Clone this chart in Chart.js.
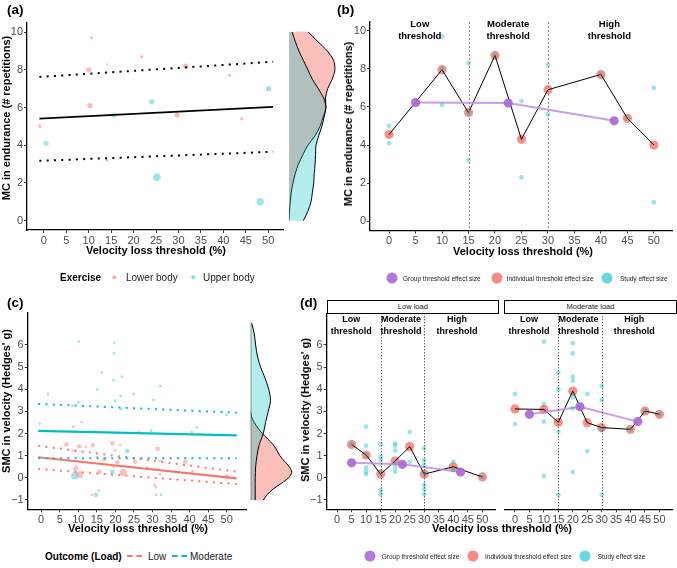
<!DOCTYPE html>
<html>
<head>
<meta charset="utf-8">
<script src="https://cdn.jsdelivr.net/npm/chart.js@4.4.0/dist/chart.umd.min.js"></script>
<style>
body { margin: 0; background: #fff; font-family: "Liberation Sans", Arial, Helvetica, sans-serif; }
#wrap { position: relative; width: 677px; height: 568px; overflow: hidden; background: #fff; }
canvas { position: absolute; }
.t { position: absolute; white-space: nowrap; color: #000; }
.lab { font-weight: bold; font-size: 13.5px; transform: translateY(-50%); }
.ax { font-weight: bold; font-size: 11px; transform: translate(-50%, -50%); }
.ay { font-weight: bold; font-size: 11px; transform: translate(-50%, -50%) rotate(-90deg); }
.lg { font-size: 10px; transform: translateY(-50%); color: #1a1a1a; }
.lgb { font-size: 10px; font-weight: bold; transform: translateY(-50%); }
.lgs { font-size: 6.5px; transform: translateY(-50%); color: #222; }
.dot { position: absolute; border-radius: 50%; transform: translate(-50%, -50%); }
.key { position: absolute; width: 15px; height: 0; transform: translateY(-50%); }
.strip { position: absolute; border: 1px solid #000; box-sizing: border-box; font-size: 7.5px; text-align: center; line-height: 11.5px; color: #1a1a1a; background: #fff; }
</style>
</head>
<body>
<div id="wrap">
  <canvas id="cA" width="287" height="262" style="left:0;top:0"></canvas>
  <canvas id="cAd" width="52" height="262" style="left:287px;top:0"></canvas>
  <canvas id="cB" width="347" height="262" style="left:330px;top:0"></canvas>
  <canvas id="cC" width="250" height="250" style="left:0;top:290px"></canvas>
  <canvas id="cCd" width="50" height="250" style="left:249px;top:290px"></canvas>
  <canvas id="cD1" width="204" height="250" style="left:296px;top:290px"></canvas>
  <canvas id="cD2" width="177" height="250" style="left:500px;top:290px"></canvas>

  <div class="t lab" style="left:7px;top:9px">(a)</div>
  <div class="t lab" style="left:337px;top:9px">(b)</div>
  <div class="t lab" style="left:7px;top:301.5px">(c)</div>
  <div class="t lab" style="left:300px;top:301.5px">(d)</div>

  <div class="t ay" style="left:5.5px;top:118px">MC in endurance (# repetitions)</div>
  <div class="t ax" style="left:156px;top:250px">Velocity loss threshold (%)</div>
  <div class="t ay" style="left:347.5px;top:124px">MC in endurance (# repetitions)</div>
  <div class="t ax" style="left:523px;top:251px">Velocity loss threshold (%)</div>
  <div class="t ay" style="left:5.5px;top:401px">SMC in velocity (Hedges' g)</div>
  <div class="t ax" style="left:138px;top:528px">Velocity loss threshold (%)</div>
  <div class="t ay" style="left:304.5px;top:410px">SMC in velocity (Hedges' g)</div>
  <div class="t ax" style="left:502px;top:528px">Velocity loss threshold (%)</div>

  <div class="strip" style="left:326.7px;top:300px;width:172.3px;height:13.5px">Low load</div>
  <div class="strip" style="left:504.3px;top:300px;width:172.4px;height:13.5px">Moderate load</div>

  <!-- leyenda (a) -->
  <div class="t lgb" style="left:60px;top:277px">Exercise</div>
  <div class="dot" style="left:114px;top:277px;width:3.5px;height:3.5px;background:rgba(248,118,109,0.6)"></div>
  <div class="t lg" style="left:126px;top:277px">Lower body</div>
  <div class="dot" style="left:193px;top:277px;width:3.5px;height:3.5px;background:rgba(0,191,196,0.5)"></div>
  <div class="t lg" style="left:203px;top:277px">Upper body</div>

  <!-- leyenda (b) -->
  <div class="dot" style="left:392.3px;top:278px;width:11px;height:11px;background:rgba(172,104,214,0.9)"></div>
  <div class="t lgs" style="left:403px;top:278px">Group threshold effect size</div>
  <div class="dot" style="left:496.7px;top:278px;width:11px;height:11px;background:rgba(248,118,109,0.85)"></div>
  <div class="t lgs" style="left:506.7px;top:278px">Individual threshold effect size</div>
  <div class="dot" style="left:607.3px;top:278px;width:11px;height:11px;background:rgba(0,191,196,0.6)"></div>
  <div class="t lgs" style="left:620px;top:278px">Study effect size</div>

  <!-- leyenda (c) -->
  <div class="t lgb" style="left:45px;top:556px">Outcome (Load)</div>
  <div class="key" style="left:127px;top:556px;border-top:2px dashed #F8766D"></div>
  <div class="t lg" style="left:148px;top:556px">Low</div>
  <div class="key" style="left:172px;top:556px;border-top:2px dashed #00BFC4"></div>
  <div class="t lg" style="left:190px;top:556px">Moderate</div>

  <!-- leyenda (d) -->
  <div class="dot" style="left:370px;top:556px;width:11px;height:11px;background:rgba(172,104,214,0.9)"></div>
  <div class="t lgs" style="left:381.7px;top:556px">Group threshold effect size</div>
  <div class="dot" style="left:473.3px;top:556px;width:11px;height:11px;background:rgba(248,118,109,0.85)"></div>
  <div class="t lgs" style="left:485px;top:556px">Individual threshold effect size</div>
  <div class="dot" style="left:585px;top:556px;width:11px;height:11px;background:rgba(0,191,196,0.6)"></div>
  <div class="t lgs" style="left:597.7px;top:556px">Study effect size</div>
</div>

<script>
// Figura de umbrales de perdida de velocidad: (a) (b) resistencia, (c) (d) velocidad

// ---- (a) MC en resistencia por tipo de ejercicio ----
var aLowX = [-0.9, 10.6, 10.0, 10.25, 14.1, 14.1, 21.8, 31.6, 29.7, 41.4, 44.1];
var aLowY = [5.0, 9.7, 8.0, 6.1, 8.3, 3.2, 8.7, 8.2, 5.6, 7.7, 5.4];
var aLowW = [2, 2, 3, 3, 1, 2, 2, 3, 3, 2, 2];
var aUpX = [0.5, 15.6, 24.0, 25.2, 48.2, 50.1];
var aUpY = [4.1, 5.6, 6.3, 2.3, 1.0, 7.0];
var aUpW = [3, 3, 3, 4, 4, 3];
var aFitX = [-1, 51.1];
var aFit = [5.41, 6.03];
var aFitHi = [7.62, 8.43];
var aFitLo = [3.17, 3.65];
// densidades (a), y de 10 a 0
var aDensY = [10, 9.5, 9, 8.5, 8, 7.5, 7, 6.5, 6, 5.5, 5, 4.5, 4, 3.5, 3, 2.5, 2, 1.5, 1, 0.5, 0];
var aDensLow = [0.43, 0.64, 0.85, 0.99, 1.02, 0.96, 0.86, 0.81, 0.82, 0.76, 0.69, 0.58, 0.42, 0.31, 0.21, 0.14, 0.09, 0.05, 0.03, 0.01, 0];
var aDensUp = [0.07, 0.14, 0.22, 0.32, 0.42, 0.52, 0.65, 0.77, 0.82, 0.78, 0.73, 0.66, 0.60, 0.59, 0.58, 0.56, 0.55, 0.52, 0.49, 0.42, 0.32];

// ---- (b) umbrales en resistencia ----
var bStudyX = [0, 0, 10, 10, 10, 15, 15, 15, 20, 25, 25, 30, 30, 40, 45, 50, 50];
var bStudyY = [5.0, 4.1, 9.7, 8.0, 6.1, 8.3, 5.7, 3.2, 8.7, 6.3, 2.3, 8.2, 5.6, 7.7, 5.4, 7.0, 1.0];
var bIndX = [0, 10, 15, 20, 25, 30, 40, 45, 50];
var bIndY = [4.55, 7.95, 5.7, 8.7, 4.3, 6.9, 7.7, 5.4, 4.0];
var bGrpX = [5, 22.5, 42.5];
var bGrpY = [6.23, 6.2, 5.27];

// ---- (c) SMC en velocidad por carga ----
var cLowX = [6.8, 8.4, 8.7, 9.0, 9.2, 9.4, 10.3, 10.4, 12.1, 13.7, 13.9, 15.0, 15.5, 15.7, 17.0, 19.2, 19.6, 19.9, 20.5, 21.3, 22.1, 25.3, 26.3, 28.6, 30.6, 30.8, 31.0, 31.4, 32.0, 32.0, 38.8, 40.8, 50.0, 51.7];
var cLowY = [1.51, 1.23, 2.31, 0.35, 1.20, 0.46, 1.43, 0.14, 1.41, -0.77, 1.48, 0.95, -0.58, 0.28, 0.84, 1.56, 0.50, 1.23, 0.70, 1.48, 0.24, 0.73, 2.07, 0.47, -0.32, -0.43, -0.77, 1.31, 0.78, 0.16, 0.73, 0.30, 0.06, 0.00];
var cLowW = [2, 1, 1, 1, 1, 2, 2, 3, 1, 1, 2, 1, 1, 2, 2, 2, 1, 1, 2, 1, 3, 2, 1, 1, 1, 1, 1, 2, 1, 1, 2, 1, 2, 1];
var cModX = [-0.4, 1.8, 8.4, 9.0, 10.1, 10.1, 10.9, 14.5, 14.8, 15.1, 16.3, 19.2, 19.5, 19.6, 19.7, 19.9, 21.4, 21.5, 21.8, 23.2, 24.9, 29.6, 30.3, 32.1, 32.3, 40.6, 41.9, 49.9];
var cModY = [2.45, 3.79, 3.26, 0.10, 6.15, 3.41, 2.52, 2.10, -0.77, 4.00, 4.75, 0.27, 4.40, 5.62, 6.10, 3.49, 3.70, 3.10, 4.57, 1.21, 3.79, 2.13, 3.52, 4.15, -0.76, 2.06, 2.28, 2.84];
var cModW = [1, 1, 1, 3, 1, 1, 1, 1, 2, 1, 1, 2, 1, 1, 1, 1, 1, 1, 1, 2, 1, 1, 1, 1, 1, 1, 1, 1];
var cFitX = [-0.8, 52.7];
var cLowFit = [0.93, -0.02];
var cLowHi = [1.45, 0.28];
var cLowLo = [0.40, -0.28];
var cModFit = [2.12, 1.92];
var cModHi = [3.34, 2.94];
var cModLo = [0.88, 0.88];
var cDensModY = [7, 6.5, 6, 5.5, 5, 4.5, 4, 3.5, 3, 2.5, 2, 1.5, 1, 0.5, 0, -0.5, -1];
var cDensMod = [0.02, 0.08, 0.11, 0.15, 0.22, 0.32, 0.40, 0.44, 0.39, 0.33, 0.28, 0.19, 0.14, 0.11, 0.10, 0.10, 0.10];
var cDensLowY = [3, 2.75, 2.5, 2.25, 2, 1.75, 1.5, 1.25, 1, 0.75, 0.5, 0.25, 0, -0.25, -0.5, -0.75, -1];
var cDensLow = [0, 0.02, 0.08, 0.16, 0.26, 0.38, 0.50, 0.58, 0.65, 0.75, 0.86, 0.91, 0.84, 0.68, 0.50, 0.37, 0.28];

// ---- (d) umbrales en velocidad, carga baja y moderada ----
var dLowStudyX = [5, 10, 10, 10, 10, 10, 10, 15, 15, 15, 15, 15, 15, 20, 20, 20, 20, 20, 20, 25, 25, 30, 30, 30, 30, 30, 30, 30, 40, 40, 50];
var dLowStudyY = [1.51, 2.31, 1.45, 1.03, 0.46, 0.28, 0.16, 1.51, 0.95, 0.80, 0.23, -0.55, -0.74, 1.56, 1.45, 1.23, 0.68, 0.47, 0.28, 2.08, 0.73, 1.33, 0.80, 0.58, 0.20, -0.32, -0.52, -0.74, 0.73, 0.35, 0.04];
var dLowIndX = [5, 10, 15, 20, 25, 30, 40, 50];
var dLowIndY = [1.51, 1.03, 0.17, 0.76, 1.41, 0.17, 0.50, 0.04];
var dLowGrpX = [5, 22.5, 42.5];
var dLowGrpY = [0.68, 0.61, 0.26];
var dModStudyX = [0, 0, 10, 10, 10, 10, 15, 15, 15, 15, 20, 20, 20, 20, 20, 20, 20, 25, 25, 30, 30, 30, 30, 40, 45, 50];
var dModStudyY = [3.79, 2.43, 6.15, 3.33, 2.54, 0.08, 4.75, 4.00, 2.08, -0.76, 6.08, 5.62, 4.57, 4.39, 3.64, 3.14, 0.26, 3.79, 1.21, 4.15, 3.52, 2.16, -0.76, 2.19, 3.02, 2.87];
var dModIndX = [0, 10, 15, 20, 25, 30, 40, 45, 50];
var dModIndY = [3.11, 3.09, 2.51, 3.92, 2.49, 2.27, 2.19, 3.02, 2.87];
var dModGrpX = [5, 22.5, 42.5];
var dModGrpY = [2.87, 3.21, 2.54];

// ticks y cortes de umbral
var xTicks = [0, 5, 10, 15, 20, 25, 30, 35, 40, 45, 50];
var mcTicks = [0, 2, 4, 6, 8, 10];
var smcTicks = [-1, 0, 1, 2, 3, 4, 5, 6];
var cortes = [15, 30];
var grupos = ['Low', 'Moderate', 'High'];

var FAM = '"Liberation Sans", Arial, Helvetica, sans-serif';
Chart.defaults.font.family = FAM;

var PINK = '#F8766D', CYAN = '#00BFC4';
var radA = [0, 1, 1.6, 2.6, 3.8];
var radC = [0, 1.4, 2.3, 3.6];

function menos(v) { return v < 0 ? '\u2212' + (-v) : '' + v; }

function pares(xs, ys) {
    return xs.map(function (x, i) { return { x: x, y: ys[i] }; });
}

function puntos(xs, ys, color, radio) {
    return { data: pares(xs, ys), showLine: false, backgroundColor: color, pointBackgroundColor: color,
        pointBorderWidth: 0, pointRadius: radio };
}

function linea(xs, ys, color, ancho, dash) {
    return { data: pares(xs, ys), showLine: true, borderColor: color, borderWidth: ancho,
        borderDash: dash || [], borderCapStyle: 'butt', pointRadius: 0, fill: false };
}

function grupo(xs, ys) {
    return { data: pares(xs, ys), showLine: true, borderColor: 'rgba(190,140,232,0.85)', borderWidth: 2,
        pointRadius: 4.6, pointBackgroundColor: 'rgba(172,104,214,0.92)', pointBorderWidth: 0 };
}

// relleno de densidad cerrado sobre la linea base (x = 0)
function relleno(ys, ds, color) {
    var d = [{ x: 0, y: ys[0] }].concat(pares(ds, ys)).concat([{ x: 0, y: ys[ys.length - 1] }]);
    return { data: d, showLine: true, fill: 'shape', backgroundColor: color, borderColor: 'rgba(0,0,0,0)',
        borderWidth: 0, tension: 0.3, pointRadius: 0 };
}

// contorno de la densidad
function contorno(ys, ds) {
    return { data: pares(ds, ys), showLine: true, fill: false, borderColor: '#000', borderWidth: 1,
        tension: 0.3, pointRadius: 0 };
}

function eje(min, max, ticks, fija, esX, visible) {
    return {
        type: 'linear', min: min, max: max, display: visible,
        afterBuildTicks: function (s) { s.ticks = ticks.map(function (v) { return { value: v }; }); },
        afterFit: function (s) { if (esX) { s.height = fija; } else { s.width = fija; } },
        grid: { display: true, drawOnChartArea: false, drawTicks: true, tickLength: 3, color: '#333' },
        border: { display: true, color: '#000', width: 1.3 },
        ticks: { font: { size: 11 }, color: '#4d4d4d', padding: 1, maxRotation: 0, autoSkip: false, callback: menos }
    };
}

// lineas punteadas de corte y rotulos de grupos
var marcas = {
    id: 'marcas',
    afterDatasetsDraw: function (chart, args, opts) {
        var ctx = chart.ctx, a = chart.chartArea, sx = chart.scales.x, sy = chart.scales.y;
        ctx.save();
        ctx.lineWidth = 1;
        ctx.strokeStyle = opts.color;
        ctx.setLineDash(opts.dash);
        cortes.forEach(function (v) {
            var px = Math.round(sx.getPixelForValue(v)) + 0.5;
            ctx.beginPath();
            ctx.moveTo(px, a.top);
            ctx.lineTo(px, a.bottom);
            ctx.stroke();
        });
        ctx.setLineDash([]);
        ctx.font = opts.font;
        ctx.fillStyle = '#000';
        ctx.textAlign = 'center';
        ctx.textBaseline = 'middle';
        grupos.forEach(function (g, i) {
            var px = sx.getPixelForValue(opts.xs[i]);
            ctx.fillText(g, px, sy.getPixelForValue(opts.y1));
            ctx.fillText('threshold', px, sy.getPixelForValue(opts.y2));
        });
        ctx.restore();
    }
};

function grafico(id, datasets, scales, padding, extra, opciones) {
    var plugins = { legend: { display: false }, tooltip: { enabled: false } };
    if (opciones) { plugins.marcas = opciones; }
    return new Chart(document.getElementById(id), {
        type: 'scatter',
        data: { datasets: datasets },
        options: {
            responsive: false, animation: false, events: [],
            layout: { padding: padding },
            scales: scales,
            plugins: plugins
        },
        plugins: extra || []
    });
}

// (a)
grafico('cA', [
    linea(aFitX, aFit, '#000', 1.8),
    linea(aFitX, aFitHi, '#000', 2, [2, 5.3]),
    linea(aFitX, aFitLo, '#000', 2, [2, 5.3]),
    puntos(aUpX, aUpY, 'rgba(0,191,196,0.38)', aUpW.map(function (w) { return radA[w]; })),
    puntos(aLowX, aLowY, 'rgba(248,118,109,0.5)', aLowW.map(function (w) { return radA[w]; }))
], {
    x: eje(-3.76, 53.3, xTicks, 32, true, true),
    y: eje(-0.5, 10.5, mcTicks, 27, false, true)
}, { left: 0, top: 22.7, right: 2, bottom: 0 });

grafico('cAd', [
    contorno(aDensY, aDensUp),
    relleno(aDensY, aDensUp, 'rgba(0,191,196,0.3)'),
    contorno(aDensY, aDensLow),
    relleno(aDensY, aDensLow, 'rgba(248,118,109,0.47)')
], {
    x: { type: 'linear', min: 0, max: 1.1, display: false },
    y: { type: 'linear', min: -0.5, max: 10.5, display: false }
}, { left: 2, top: 22.7, right: 0.5, bottom: 32 });

// (b)
grafico('cB', [
    puntos(bStudyX, bStudyY, 'rgba(0,191,196,0.4)', 2.4),
    grupo(bGrpX, bGrpY),
    linea(bIndX, bIndY, '#000', 1),
    puntos(bIndX, bIndY, 'rgba(248,118,109,0.82)', 4.6)
], {
    x: eje(-3.6, 53.5, xTicks, 31.5, true, true),
    y: eje(-0.48, 10.45, mcTicks, 40, false, true)
}, { left: 0, top: 22, right: 0.3, bottom: 0 }, [marcas],
{ color: '#8a8a8a', dash: [2, 2], font: 'bold 9.5px ' + FAM, xs: [5.8, 22.5, 41.6], y1: 10.34, y2: 9.68 });

// (c)
grafico('cC', [
    linea(cFitX, cModFit, CYAN, 2.2),
    linea(cFitX, cModHi, CYAN, 2, [2, 5.3]),
    linea(cFitX, cModLo, CYAN, 2, [2, 5.3]),
    linea(cFitX, cLowFit, PINK, 2.2),
    linea(cFitX, cLowHi, PINK, 2, [2, 5.3]),
    linea(cFitX, cLowLo, PINK, 2, [2, 5.3]),
    puntos(cModX, cModY, 'rgba(0,191,196,0.38)', cModW.map(function (w) { return radC[w]; })),
    puntos(cLowX, cLowY, 'rgba(248,118,109,0.45)', cLowW.map(function (w) { return radC[w]; }))
], {
    x: eje(-3.63, 55.2, xTicks, 30.7, true, true),
    y: eje(-1.42, 7.445, smcTicks, 27.7, false, true)
}, { left: 0, top: 23, right: 1.7, bottom: 0 });

grafico('cCd', [
    linea([0, 0], [cDensLowY[cDensLowY.length - 1], cDensModY[0]], '#555', 1.2),
    contorno(cDensModY, cDensMod),
    relleno(cDensModY, cDensMod, 'rgba(0,191,196,0.3)'),
    contorno(cDensLowY, cDensLow),
    relleno(cDensLowY, cDensLow, 'rgba(248,118,109,0.47)')
], {
    x: { type: 'linear', min: 0, max: 1, display: false },
    y: { type: 'linear', min: -1.42, max: 7.445, display: false }
}, { left: 1.7, top: 23, right: 3.3, bottom: 30.7 });

// (d)
var marcasD = { color: '#222', dash: [1, 2], font: 'bold 9px ' + FAM, xs: [4.85, 22, 41.3], y1: 7.17, y2: 6.6 };

grafico('cD1', [
    puntos(dLowStudyX, dLowStudyY, 'rgba(0,191,196,0.4)', 2.4),
    grupo(dLowGrpX, dLowGrpY),
    linea(dLowIndX, dLowIndY, '#000', 1),
    puntos(dLowIndX, dLowIndY, 'rgba(248,118,109,0.82)', 4.6)
], {
    x: eje(-3.57, 54.5, xTicks, 30.7, true, true),
    y: eje(-1.42, 7.43, smcTicks, 30.7, false, true)
}, { left: 0, top: 23.3, right: 1, bottom: 0 }, [marcas], marcasD);

grafico('cD2', [
    puntos(dModStudyX, dModStudyY, 'rgba(0,191,196,0.4)', 2.4),
    grupo(dModGrpX, dModGrpY),
    linea(dModIndX, dModIndY, '#000', 1),
    puntos(dModIndX, dModIndY, 'rgba(248,118,109,0.82)', 4.6)
], {
    x: eje(-3.6, 54.5, xTicks, 30.7, true, true),
    y: eje(-1.42, 7.43, smcTicks, 0, false, false)
}, { left: 4.3, top: 23.3, right: 0.3, bottom: 0 }, [marcas], marcasD);
</script>
</body>
</html>
